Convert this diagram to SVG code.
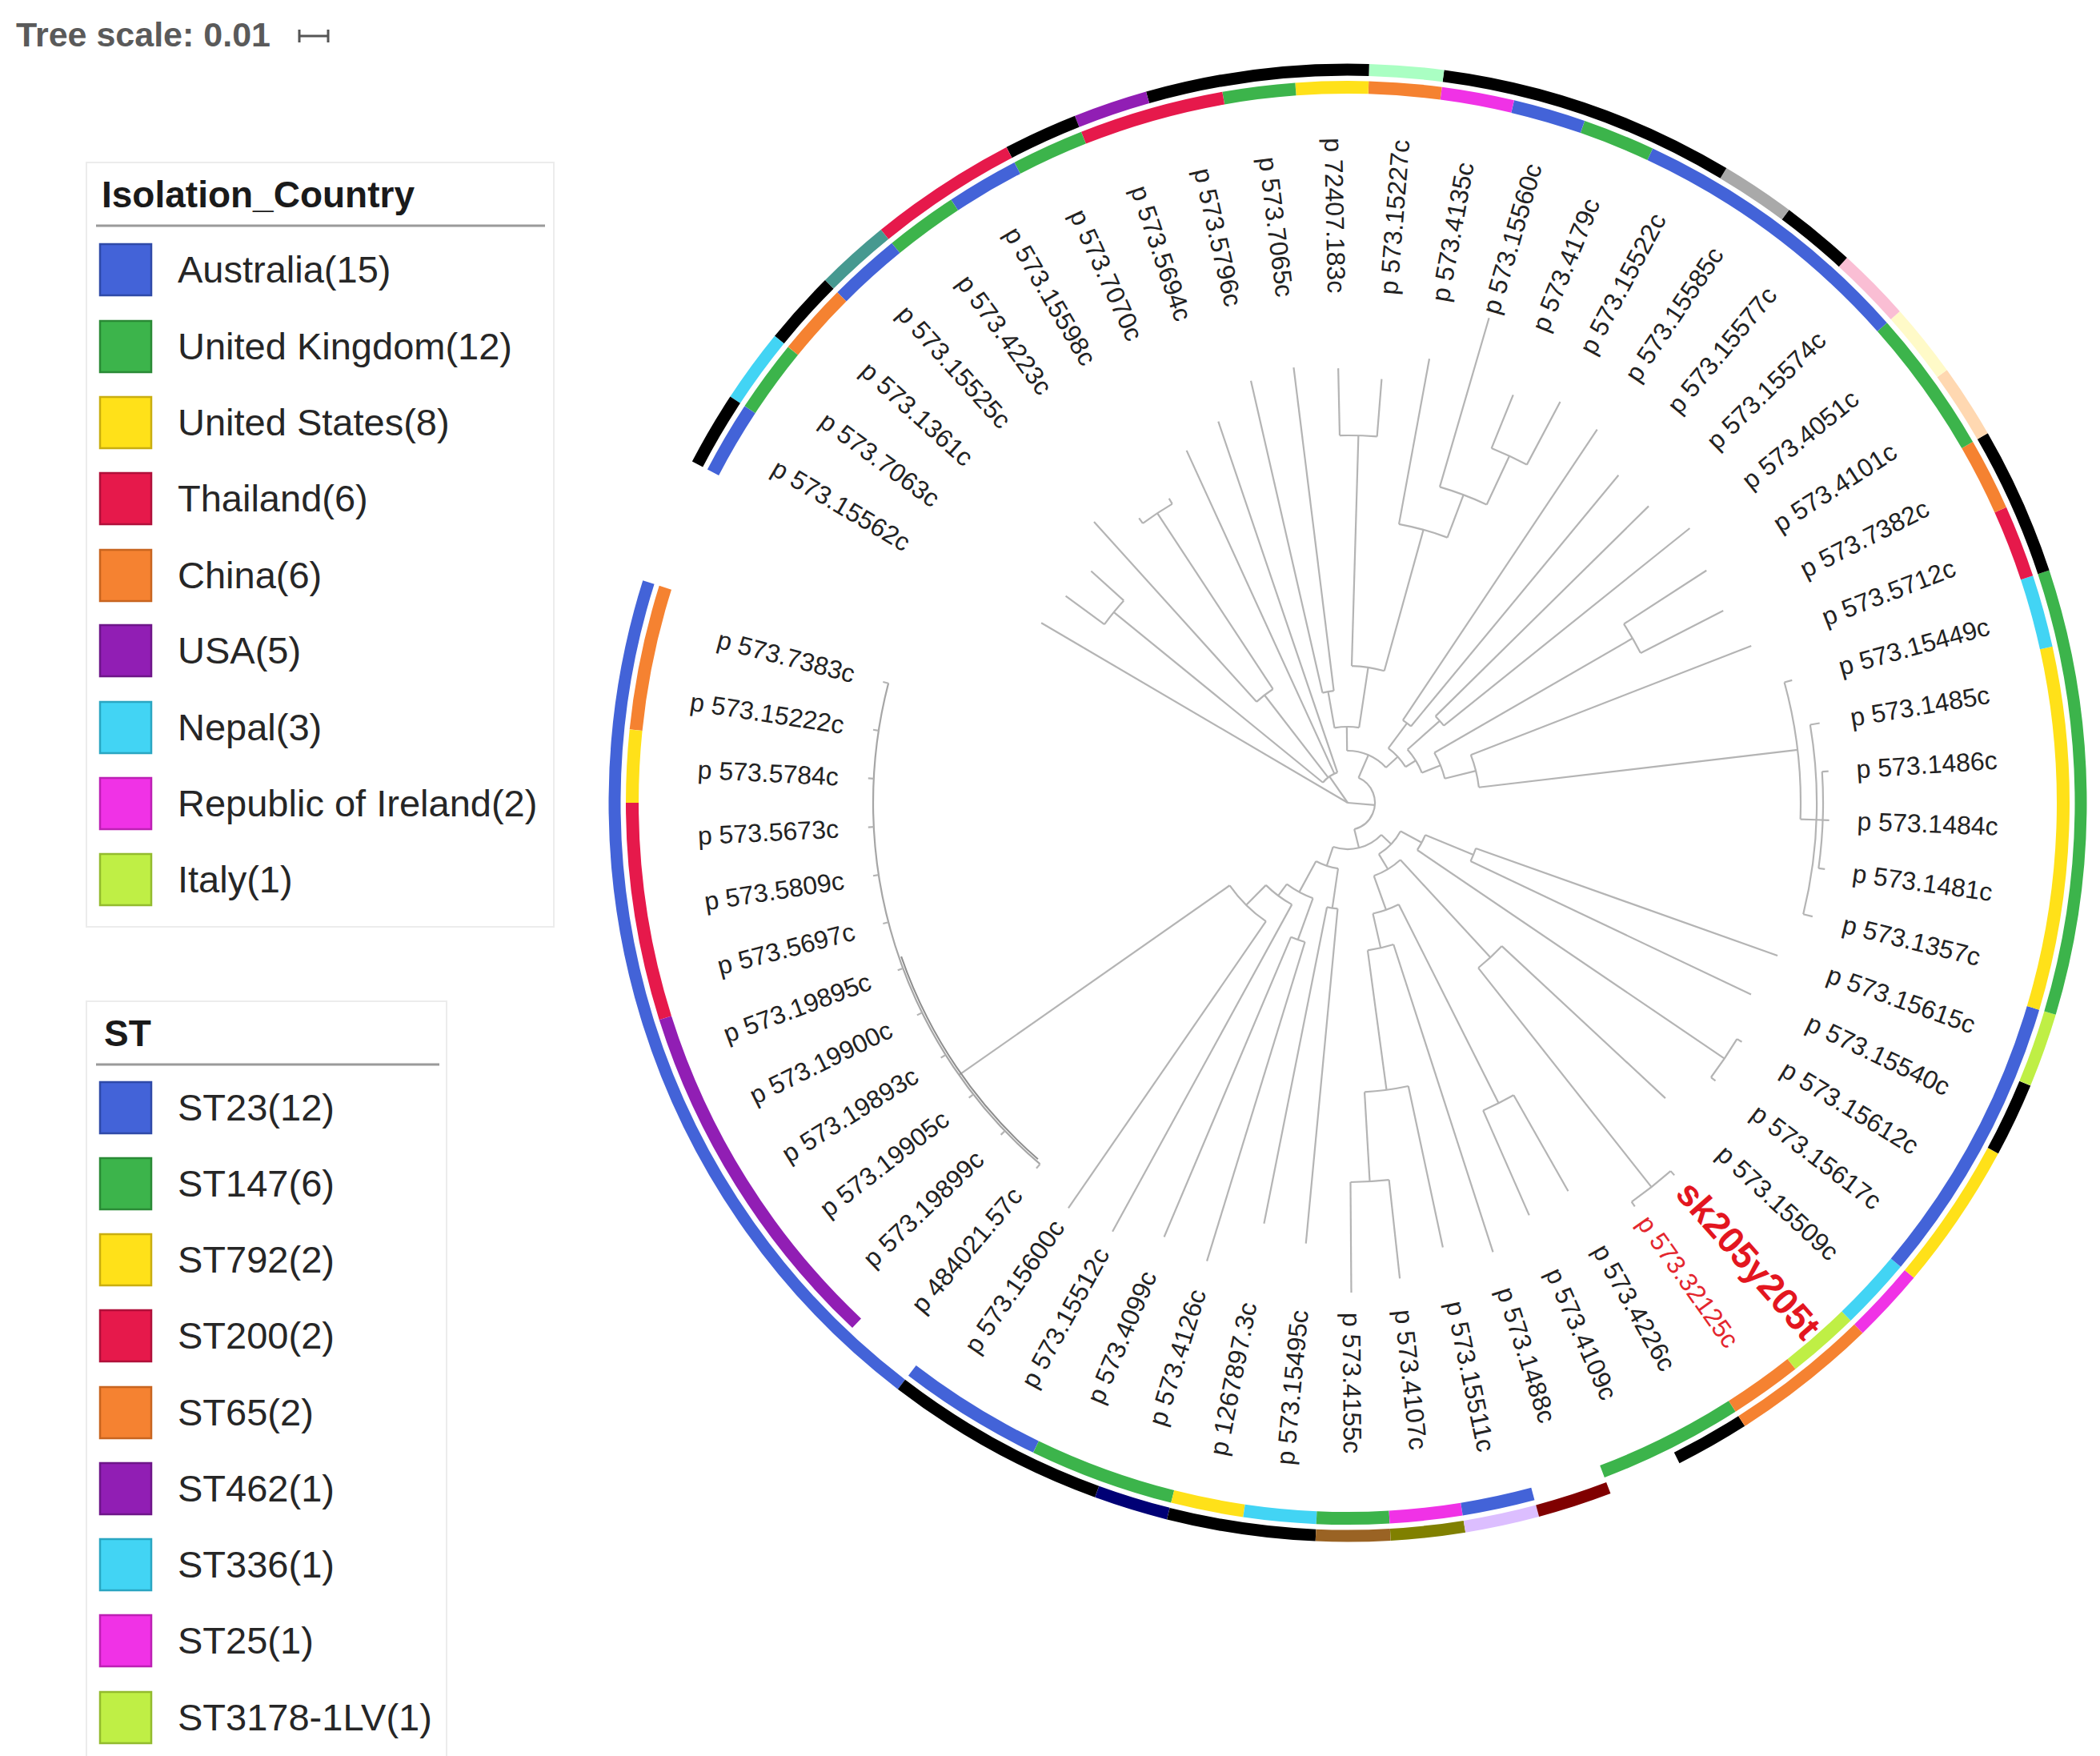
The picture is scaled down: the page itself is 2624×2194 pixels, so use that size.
<svg xmlns="http://www.w3.org/2000/svg" width="2624" height="2194" viewBox="0 0 2624 2194">
<style>
.br{fill:none;stroke:#b4b4b4;stroke-width:2.2}
.br circle{fill:none}
.lbl{font-family:"Liberation Sans",Arial,sans-serif;font-size:32px;fill:#222}
.le{text-anchor:end}
.ring circle{fill:none}
.ci circle{stroke-width:16}
.cs circle{stroke-width:15}
.leg{font-family:"Liberation Sans",Arial,sans-serif;font-size:47px;fill:#262626}
.legt{font-family:"Liberation Sans",Arial,sans-serif;font-size:46px;font-weight:bold;fill:#1a1a1a}
.box{stroke-width:2.5}
</style>
<rect width="2624" height="2194" fill="#fff"/>

<g id="tree-scale">
<text x="20" y="58" font-family="Liberation Sans, Arial, sans-serif" font-size="43" font-weight="bold" fill="#5a5a5a">Tree scale: 0.01</text>
<path d="M374 45H410M374 37V53M410 37V53" stroke="#555" stroke-width="3" fill="none"/>
</g>

<g id="legend-country">
<rect x="108" y="203" width="584" height="955" fill="#fff" stroke="#ececec" stroke-width="2"/>
<text class="legt" x="127" y="259">Isolation_Country</text>
<path d="M120 282H681" stroke="#9a9a9a" stroke-width="3"/>
<rect class="box" x="125" y="305" width="64" height="64" fill="#4363d8" stroke="#2f4aa8"/>
<text class="leg" x="222" y="353">Australia(15)</text>
<rect class="box" x="125" y="401" width="64" height="64" fill="#3cb44b" stroke="#2a8a36"/>
<text class="leg" x="222" y="449">United Kingdom(12)</text>
<rect class="box" x="125" y="496" width="64" height="64" fill="#ffe119" stroke="#c9ae10"/>
<text class="leg" x="222" y="544">United States(8)</text>
<rect class="box" x="125" y="591" width="64" height="64" fill="#e6194b" stroke="#b0103a"/>
<text class="leg" x="222" y="639">Thailand(6)</text>
<rect class="box" x="125" y="687" width="64" height="64" fill="#f58231" stroke="#c86520"/>
<text class="leg" x="222" y="735">China(6)</text>
<rect class="box" x="125" y="781" width="64" height="64" fill="#911eb4" stroke="#6e1689"/>
<text class="leg" x="222" y="829">USA(5)</text>
<rect class="box" x="125" y="877" width="64" height="64" fill="#42d4f4" stroke="#2aa6c2"/>
<text class="leg" x="222" y="925">Nepal(3)</text>
<rect class="box" x="125" y="972" width="64" height="64" fill="#f032e6" stroke="#bd20b4"/>
<text class="leg" x="222" y="1020">Republic of Ireland(2)</text>
<rect class="box" x="125" y="1067" width="64" height="64" fill="#bfef45" stroke="#93bb2e"/>
<text class="leg" x="222" y="1115">Italy(1)</text>
</g>

<g id="legend-st">
<rect x="108" y="1251" width="450" height="945" fill="#fff" stroke="#ececec" stroke-width="2"/>
<text class="legt" x="130" y="1307">ST</text>
<path d="M120 1330H549" stroke="#9a9a9a" stroke-width="3"/>
<rect class="box" x="125" y="1352" width="64" height="64" fill="#4363d8" stroke="#2f4aa8"/>
<text class="leg" x="222" y="1400">ST23(12)</text>
<rect class="box" x="125" y="1447" width="64" height="64" fill="#3cb44b" stroke="#2a8a36"/>
<text class="leg" x="222" y="1495">ST147(6)</text>
<rect class="box" x="125" y="1542" width="64" height="64" fill="#ffe119" stroke="#c9ae10"/>
<text class="leg" x="222" y="1590">ST792(2)</text>
<rect class="box" x="125" y="1637" width="64" height="64" fill="#e6194b" stroke="#b0103a"/>
<text class="leg" x="222" y="1685">ST200(2)</text>
<rect class="box" x="125" y="1733" width="64" height="64" fill="#f58231" stroke="#c86520"/>
<text class="leg" x="222" y="1781">ST65(2)</text>
<rect class="box" x="125" y="1828" width="64" height="64" fill="#911eb4" stroke="#6e1689"/>
<text class="leg" x="222" y="1876">ST462(1)</text>
<rect class="box" x="125" y="1923" width="64" height="64" fill="#42d4f4" stroke="#2aa6c2"/>
<text class="leg" x="222" y="1971">ST336(1)</text>
<rect class="box" x="125" y="2018" width="64" height="64" fill="#f032e6" stroke="#bd20b4"/>
<text class="leg" x="222" y="2066">ST25(1)</text>
<rect class="box" x="125" y="2114" width="64" height="64" fill="#bfef45" stroke="#93bb2e"/>
<text class="leg" x="222" y="2162">ST3178-1LV(1)</text>
</g>

<g id="ring-country" class="ring ci" transform="translate(1684,1003)">
<circle r="894" pathLength="360" stroke="#f58231" stroke-dasharray="11.667 400" transform="rotate(185.833)"/>
<circle r="894" pathLength="360" stroke="#ffe119" stroke-dasharray="5.833 400" transform="rotate(180)"/>
<circle r="894" pathLength="360" stroke="#e6194b" stroke-dasharray="17.5 400" transform="rotate(162.5)"/>
<circle r="894" pathLength="360" stroke="#911eb4" stroke-dasharray="29.167 400" transform="rotate(133.333)"/>
<circle r="894" pathLength="360" stroke="#4363d8" stroke-dasharray="11.667 400" transform="rotate(115.833)"/>
<circle r="894" pathLength="360" stroke="#3cb44b" stroke-dasharray="11.667 400" transform="rotate(104.167)"/>
<circle r="894" pathLength="360" stroke="#ffe119" stroke-dasharray="5.833 400" transform="rotate(98.333)"/>
<circle r="894" pathLength="360" stroke="#42d4f4" stroke-dasharray="5.833 400" transform="rotate(92.5)"/>
<circle r="894" pathLength="360" stroke="#3cb44b" stroke-dasharray="5.833 400" transform="rotate(86.667)"/>
<circle r="894" pathLength="360" stroke="#f032e6" stroke-dasharray="5.833 400" transform="rotate(80.833)"/>
<circle r="894" pathLength="360" stroke="#4363d8" stroke-dasharray="5.833 400" transform="rotate(75)"/>
<circle r="894" pathLength="360" stroke="#3cb44b" stroke-dasharray="11.667 400" transform="rotate(57.5)"/>
<circle r="894" pathLength="360" stroke="#f58231" stroke-dasharray="5.833 400" transform="rotate(51.667)"/>
<circle r="894" pathLength="360" stroke="#bfef45" stroke-dasharray="5.833 400" transform="rotate(45.833)"/>
<circle r="894" pathLength="360" stroke="#42d4f4" stroke-dasharray="5.833 400" transform="rotate(40)"/>
<circle r="894" pathLength="360" stroke="#4363d8" stroke-dasharray="23.333 400" transform="rotate(16.667)"/>
<circle r="894" pathLength="360" stroke="#ffe119" stroke-dasharray="29.167 400" transform="rotate(-12.5)"/>
<circle r="894" pathLength="360" stroke="#42d4f4" stroke-dasharray="5.833 400" transform="rotate(-18.333)"/>
<circle r="894" pathLength="360" stroke="#e6194b" stroke-dasharray="5.833 400" transform="rotate(-24.167)"/>
<circle r="894" pathLength="360" stroke="#f58231" stroke-dasharray="5.833 400" transform="rotate(-30)"/>
<circle r="894" pathLength="360" stroke="#3cb44b" stroke-dasharray="11.667 400" transform="rotate(-41.667)"/>
<circle r="894" pathLength="360" stroke="#4363d8" stroke-dasharray="23.333 400" transform="rotate(-65)"/>
<circle r="894" pathLength="360" stroke="#3cb44b" stroke-dasharray="5.833 400" transform="rotate(-70.833)"/>
<circle r="894" pathLength="360" stroke="#4363d8" stroke-dasharray="5.833 400" transform="rotate(-76.667)"/>
<circle r="894" pathLength="360" stroke="#f032e6" stroke-dasharray="5.833 400" transform="rotate(-82.5)"/>
<circle r="894" pathLength="360" stroke="#f58231" stroke-dasharray="5.833 400" transform="rotate(-88.333)"/>
<circle r="894" pathLength="360" stroke="#ffe119" stroke-dasharray="5.833 400" transform="rotate(-94.167)"/>
<circle r="894" pathLength="360" stroke="#3cb44b" stroke-dasharray="5.833 400" transform="rotate(-100)"/>
<circle r="894" pathLength="360" stroke="#e6194b" stroke-dasharray="11.667 400" transform="rotate(-111.667)"/>
<circle r="894" pathLength="360" stroke="#3cb44b" stroke-dasharray="5.833 400" transform="rotate(-117.5)"/>
<circle r="894" pathLength="360" stroke="#4363d8" stroke-dasharray="5.833 400" transform="rotate(-123.333)"/>
<circle r="894" pathLength="360" stroke="#3cb44b" stroke-dasharray="5.833 400" transform="rotate(-129.167)"/>
<circle r="894" pathLength="360" stroke="#4363d8" stroke-dasharray="5.833 400" transform="rotate(-135)"/>
<circle r="894" pathLength="360" stroke="#f58231" stroke-dasharray="5.833 400" transform="rotate(-140.833)"/>
<circle r="894" pathLength="360" stroke="#3cb44b" stroke-dasharray="5.833 400" transform="rotate(-146.667)"/>
<circle r="894" pathLength="360" stroke="#4363d8" stroke-dasharray="5.833 400" transform="rotate(-152.5)"/>
</g>

<g id="ring-st" class="ring cs" transform="translate(1684,1003)">
<circle r="916" pathLength="360" stroke="#4363d8" stroke-dasharray="70 400" transform="rotate(127.5)"/>
<circle r="916" pathLength="360" stroke="#000" stroke-dasharray="17.5 400" transform="rotate(110)"/>
<circle r="916" pathLength="360" stroke="#000075" stroke-dasharray="5.833 400" transform="rotate(104.167)"/>
<circle r="916" pathLength="360" stroke="#000" stroke-dasharray="11.667 400" transform="rotate(92.5)"/>
<circle r="916" pathLength="360" stroke="#9a6324" stroke-dasharray="5.833 400" transform="rotate(86.667)"/>
<circle r="916" pathLength="360" stroke="#808000" stroke-dasharray="5.833 400" transform="rotate(80.833)"/>
<circle r="916" pathLength="360" stroke="#dcbeff" stroke-dasharray="5.833 400" transform="rotate(75)"/>
<circle r="916" pathLength="360" stroke="#800000" stroke-dasharray="5.833 400" transform="rotate(69.167)"/>
<circle r="916" pathLength="360" stroke="#000" stroke-dasharray="5.833 400" transform="rotate(57.5)"/>
<circle r="916" pathLength="360" stroke="#f58231" stroke-dasharray="11.667 400" transform="rotate(45.833)"/>
<circle r="916" pathLength="360" stroke="#f032e6" stroke-dasharray="5.833 400" transform="rotate(40)"/>
<circle r="916" pathLength="360" stroke="#ffe119" stroke-dasharray="11.667 400" transform="rotate(28.333)"/>
<circle r="916" pathLength="360" stroke="#000" stroke-dasharray="5.833 400" transform="rotate(22.5)"/>
<circle r="916" pathLength="360" stroke="#bfef45" stroke-dasharray="5.833 400" transform="rotate(16.667)"/>
<circle r="916" pathLength="360" stroke="#3cb44b" stroke-dasharray="35 400" transform="rotate(-18.333)"/>
<circle r="916" pathLength="360" stroke="#000" stroke-dasharray="11.667 400" transform="rotate(-30)"/>
<circle r="916" pathLength="360" stroke="#ffd8b1" stroke-dasharray="5.833 400" transform="rotate(-35.833)"/>
<circle r="916" pathLength="360" stroke="#fffac8" stroke-dasharray="5.833 400" transform="rotate(-41.667)"/>
<circle r="916" pathLength="360" stroke="#fabed4" stroke-dasharray="5.833 400" transform="rotate(-47.5)"/>
<circle r="916" pathLength="360" stroke="#000" stroke-dasharray="5.833 400" transform="rotate(-53.333)"/>
<circle r="916" pathLength="360" stroke="#a9a9a9" stroke-dasharray="5.833 400" transform="rotate(-59.167)"/>
<circle r="916" pathLength="360" stroke="#000" stroke-dasharray="23.333 400" transform="rotate(-82.5)"/>
<circle r="916" pathLength="360" stroke="#aaffc3" stroke-dasharray="5.833 400" transform="rotate(-88.333)"/>
<circle r="916" pathLength="360" stroke="#000" stroke-dasharray="17.5 400" transform="rotate(-105.833)"/>
<circle r="916" pathLength="360" stroke="#911eb4" stroke-dasharray="5.833 400" transform="rotate(-111.667)"/>
<circle r="916" pathLength="360" stroke="#000" stroke-dasharray="5.833 400" transform="rotate(-117.5)"/>
<circle r="916" pathLength="360" stroke="#e6194b" stroke-dasharray="11.667 400" transform="rotate(-129.167)"/>
<circle r="916" pathLength="360" stroke="#469990" stroke-dasharray="5.833 400" transform="rotate(-135)"/>
<circle r="916" pathLength="360" stroke="#000" stroke-dasharray="5.833 400" transform="rotate(-140.833)"/>
<circle r="916" pathLength="360" stroke="#42d4f4" stroke-dasharray="5.833 400" transform="rotate(-146.667)"/>
<circle r="916" pathLength="360" stroke="#000" stroke-dasharray="5.833 400" transform="rotate(-152.5)"/>
</g>

<g id="branches" class="br" transform="translate(1684,1003)">
<path d="M0 0H444" transform="rotate(210.42)"/>
<path d="M0 0H40" transform="rotate(235.2)"/>
<path d="M0 0H34" transform="rotate(4.7)"/>
<circle r="40" pathLength="360" stroke-dasharray="32.08 400" transform="rotate(219.17)"/>
<path d="M40 0H377" transform="rotate(219.17)"/>
<circle r="377" pathLength="360" stroke-dasharray="5.83 400" transform="rotate(216.25)"/>
<path d="M377 0H437" transform="rotate(216.25)"/>
<path d="M377 0H432" transform="rotate(222.08)"/>
<path d="M40 0H170" transform="rotate(232.3)"/>
<circle r="170" pathLength="360" stroke-dasharray="8.75 400" transform="rotate(227.92)"/>
<path d="M170 0H473" transform="rotate(227.92)"/>
<path d="M170 0H433" transform="rotate(236.67)"/>
<circle r="433" pathLength="360" stroke-dasharray="5.83 400" transform="rotate(233.75)"/>
<path d="M433 0H441" transform="rotate(233.75)"/>
<path d="M433 0H441" transform="rotate(239.58)"/>
<path d="M40 0H484" transform="rotate(245.42)"/>
<path d="M40 0H503" transform="rotate(251.25)"/>
<circle r="34" pathLength="360" stroke-dasharray="142.6 400" transform="rotate(293.4)"/>
<path d="M34 0H65" transform="rotate(293.4)"/>
<circle r="65" pathLength="360" stroke-dasharray="48.1 400" transform="rotate(269.3)"/>
<path d="M65 0H95" transform="rotate(269.3)"/>
<circle r="95" pathLength="360" stroke-dasharray="18.6 400" transform="rotate(260)"/>
<path d="M95 0H141" transform="rotate(260)"/>
<circle r="141" pathLength="360" stroke-dasharray="5.83 400" transform="rotate(257.08)"/>
<path d="M141 0H541" transform="rotate(257.08)"/>
<path d="M141 0H548" transform="rotate(262.92)"/>
<path d="M95 0H171" transform="rotate(278.6)"/>
<circle r="171" pathLength="360" stroke-dasharray="13.83 400" transform="rotate(271.67)"/>
<path d="M171 0H459" transform="rotate(271.67)"/>
<circle r="459" pathLength="360" stroke-dasharray="5.83 400" transform="rotate(268.75)"/>
<path d="M459 0H543" transform="rotate(268.75)"/>
<path d="M459 0H531" transform="rotate(274.58)"/>
<path d="M171 0H354" transform="rotate(285.5)"/>
<circle r="354" pathLength="360" stroke-dasharray="10.18 400" transform="rotate(280.42)"/>
<path d="M354 0H564" transform="rotate(280.42)"/>
<path d="M354 0H411" transform="rotate(290.6)"/>
<circle r="411" pathLength="360" stroke-dasharray="8.75 400" transform="rotate(286.25)"/>
<path d="M411 0H631" transform="rotate(286.25)"/>
<path d="M411 0H478" transform="rotate(295)"/>
<circle r="478" pathLength="360" stroke-dasharray="5.83 400" transform="rotate(292.08)"/>
<path d="M478 0H550" transform="rotate(292.08)"/>
<path d="M478 0H567" transform="rotate(297.92)"/>
<path d="M65 0H85" transform="rotate(317.4)"/>
<circle r="85" pathLength="360" stroke-dasharray="21.53 400" transform="rotate(306.67)"/>
<path d="M85 0H124" transform="rotate(306.67)"/>
<circle r="124" pathLength="360" stroke-dasharray="5.83 400" transform="rotate(303.75)"/>
<path d="M124 0H561" transform="rotate(303.75)"/>
<path d="M124 0H531" transform="rotate(309.58)"/>
<path d="M85 0H100" transform="rotate(328.2)"/>
<circle r="100" pathLength="360" stroke-dasharray="19.67 400" transform="rotate(318.33)"/>
<path d="M100 0H154" transform="rotate(318.33)"/>
<circle r="154" pathLength="360" stroke-dasharray="5.83 400" transform="rotate(315.42)"/>
<path d="M154 0H528" transform="rotate(315.42)"/>
<path d="M154 0H548" transform="rotate(321.25)"/>
<path d="M100 0H125" transform="rotate(338)"/>
<circle r="125" pathLength="360" stroke-dasharray="16 400" transform="rotate(330)"/>
<path d="M125 0H411" transform="rotate(330)"/>
<circle r="411" pathLength="360" stroke-dasharray="5.83 400" transform="rotate(327.08)"/>
<path d="M411 0H534" transform="rotate(327.08)"/>
<path d="M411 0H527" transform="rotate(332.92)"/>
<path d="M125 0H165" transform="rotate(346)"/>
<circle r="165" pathLength="360" stroke-dasharray="14.55 400" transform="rotate(338.75)"/>
<path d="M165 0H541" transform="rotate(338.75)"/>
<path d="M165 0H566" transform="rotate(353.3)"/>
<circle r="566" pathLength="360" stroke-dasharray="17.5 400" transform="rotate(344.58)"/>
<path d="M566 0H576" transform="rotate(344.58)"/>
<path d="M566 0H586" transform="rotate(2.08)"/>
<circle r="586" pathLength="360" stroke-dasharray="23.33 400" transform="rotate(350.42)"/>
<path d="M586 0H598" transform="rotate(350.42)"/>
<path d="M586 0H598" transform="rotate(13.75)"/>
<circle r="594" pathLength="360" stroke-dasharray="11.67 400" transform="rotate(356.25)"/>
<path d="M594 0H602" transform="rotate(356.25)"/>
<path d="M586 0H602" transform="rotate(2.08)"/>
<path d="M594 0H602" transform="rotate(7.92)"/>
<path d="M34 0H58" transform="rotate(76)"/>
<circle r="58" pathLength="360" stroke-dasharray="64.85 400" transform="rotate(43.55)"/>
<path d="M58 0H75" transform="rotate(43.55)"/>
<circle r="75" pathLength="360" stroke-dasharray="30.5 400" transform="rotate(28.3)"/>
<path d="M75 0H105" transform="rotate(28.3)"/>
<circle r="105" pathLength="360" stroke-dasharray="11.67 400" transform="rotate(22.5)"/>
<path d="M105 0H170" transform="rotate(22.5)"/>
<circle r="170" pathLength="360" stroke-dasharray="5.83 400" transform="rotate(19.58)"/>
<path d="M170 0H570" transform="rotate(19.58)"/>
<path d="M170 0H558" transform="rotate(25.42)"/>
<path d="M105 0H569" transform="rotate(34.17)"/>
<circle r="569" pathLength="360" stroke-dasharray="5.83 400" transform="rotate(31.25)"/>
<path d="M569 0H576" transform="rotate(31.25)"/>
<path d="M569 0H576" transform="rotate(37.08)"/>
<path d="M75 0H97" transform="rotate(58.8)"/>
<circle r="97" pathLength="360" stroke-dasharray="23 400" transform="rotate(47.3)"/>
<path d="M97 0H263" transform="rotate(47.3)"/>
<circle r="263" pathLength="360" stroke-dasharray="8.75 400" transform="rotate(42.92)"/>
<path d="M263 0H542" transform="rotate(42.92)"/>
<path d="M263 0H612" transform="rotate(51.67)"/>
<circle r="612" pathLength="360" stroke-dasharray="5.83 400" transform="rotate(48.75)"/>
<path d="M612 0H619" transform="rotate(48.75)"/>
<path d="M612 0H619" transform="rotate(54.58)"/>
<path d="M97 0H142" transform="rotate(70.3)"/>
<circle r="142" pathLength="360" stroke-dasharray="13.87 400" transform="rotate(63.33)"/>
<path d="M142 0H420" transform="rotate(63.33)"/>
<circle r="420" pathLength="360" stroke-dasharray="5.83 400" transform="rotate(60.42)"/>
<path d="M420 0H558" transform="rotate(60.42)"/>
<path d="M420 0H563" transform="rotate(66.25)"/>
<path d="M142 0H186" transform="rotate(77.2)"/>
<circle r="186" pathLength="360" stroke-dasharray="10.22 400" transform="rotate(72.08)"/>
<path d="M186 0H590" transform="rotate(72.08)"/>
<path d="M186 0H362" transform="rotate(82.3)"/>
<circle r="362" pathLength="360" stroke-dasharray="8.75 400" transform="rotate(77.92)"/>
<path d="M362 0H568" transform="rotate(77.92)"/>
<path d="M362 0H474" transform="rotate(86.67)"/>
<circle r="474" pathLength="360" stroke-dasharray="5.83 400" transform="rotate(83.75)"/>
<path d="M474 0H598" transform="rotate(83.75)"/>
<path d="M474 0H612" transform="rotate(89.58)"/>
<path d="M58 0H83" transform="rotate(108.4)"/>
<circle r="83" pathLength="360" stroke-dasharray="20.17 400" transform="rotate(98.33)"/>
<path d="M83 0H133" transform="rotate(98.33)"/>
<circle r="133" pathLength="360" stroke-dasharray="5.83 400" transform="rotate(95.42)"/>
<path d="M133 0H553" transform="rotate(95.42)"/>
<path d="M133 0H536" transform="rotate(101.25)"/>
<path d="M83 0H127" transform="rotate(118.5)"/>
<circle r="127" pathLength="360" stroke-dasharray="16.8 400" transform="rotate(110)"/>
<path d="M127 0H182" transform="rotate(110)"/>
<circle r="182" pathLength="360" stroke-dasharray="5.83 400" transform="rotate(107.08)"/>
<path d="M182 0H599" transform="rotate(107.08)"/>
<path d="M182 0H589" transform="rotate(112.92)"/>
<path d="M127 0H145" transform="rotate(126.8)"/>
<circle r="145" pathLength="360" stroke-dasharray="16.05 400" transform="rotate(118.75)"/>
<path d="M145 0H611" transform="rotate(118.75)"/>
<path d="M145 0H180" transform="rotate(134.8)"/>
<circle r="180" pathLength="360" stroke-dasharray="20.42 400" transform="rotate(124.58)"/>
<path d="M180 0H615" transform="rotate(124.58)"/>
<path d="M180 0H593" transform="rotate(145)"/>
<circle r="593" pathLength="360" stroke-dasharray="64.17 400" transform="rotate(130.42)" stroke="#a6a6a6"/>
<circle r="590" pathLength="360" stroke-dasharray="30 400" transform="rotate(131)" stroke="#8e8e8e" stroke-width="2"/>
<path d="M593 0H600" transform="rotate(194.58)"/>
<path d="M593 0H600" transform="rotate(188.75)"/>
<path d="M593 0H600" transform="rotate(182.92)"/>
<path d="M593 0H600" transform="rotate(177.08)"/>
<path d="M593 0H600" transform="rotate(171.25)"/>
<path d="M593 0H600" transform="rotate(165.42)"/>
<path d="M593 0H600" transform="rotate(159.58)"/>
<path d="M593 0H600" transform="rotate(153.75)"/>
<path d="M593 0H600" transform="rotate(147.92)"/>
<path d="M593 0H600" transform="rotate(142.08)"/>
<path d="M593 0H600" transform="rotate(136.25)"/>
<path d="M593 0H600" transform="rotate(130.42)"/>
</g>

<g id="labels" class="lbl" transform="translate(1684,1003)" dominant-baseline="central">
<g id="leaf-01"><text class="le" transform="rotate(14.58) translate(-637 0)">p 573.7383c</text></g>
<g id="leaf-02"><text class="le" transform="rotate(8.75) translate(-637 0)">p 573.15222c</text></g>
<g id="leaf-03"><text class="le" transform="rotate(2.92) translate(-637 0)">p 573.5784c</text></g>
<g id="leaf-04"><text class="le" transform="rotate(-2.92) translate(-637 0)">p 573.5673c</text></g>
<g id="leaf-05"><text class="le" transform="rotate(-8.75) translate(-637 0)">p 573.5809c</text></g>
<g id="leaf-06"><text class="le" transform="rotate(-14.58) translate(-637 0)">p 573.5697c</text></g>
<g id="leaf-07"><text class="le" transform="rotate(-20.42) translate(-637 0)">p 573.19895c</text></g>
<g id="leaf-08"><text class="le" transform="rotate(-26.25) translate(-637 0)">p 573.19900c</text></g>
<g id="leaf-09"><text class="le" transform="rotate(-32.08) translate(-637 0)">p 573.19893c</text></g>
<g id="leaf-10"><text class="le" transform="rotate(-37.92) translate(-637 0)">p 573.19905c</text></g>
<g id="leaf-11"><text class="le" transform="rotate(-43.75) translate(-637 0)">p 573.19899c</text></g>
<g id="leaf-12"><text class="le" transform="rotate(-49.58) translate(-637 0)">p 484021.57c</text></g>
<g id="leaf-13"><text class="le" transform="rotate(-55.42) translate(-637 0)">p 573.15600c</text></g>
<g id="leaf-14"><text class="le" transform="rotate(-61.25) translate(-637 0)">p 573.15512c</text></g>
<g id="leaf-15"><text class="le" transform="rotate(-67.08) translate(-637 0)">p 573.4099c</text></g>
<g id="leaf-16"><text class="le" transform="rotate(-72.92) translate(-637 0)">p 573.4126c</text></g>
<g id="leaf-17"><text class="le" transform="rotate(-78.75) translate(-637 0)">p 1267897.3c</text></g>
<g id="leaf-18"><text class="le" transform="rotate(-84.58) translate(-637 0)">p 573.15495c</text></g>
<g id="leaf-19"><text transform="rotate(89.58) translate(637 0)">p 573.4155c</text></g>
<g id="leaf-20"><text transform="rotate(83.75) translate(637 0)">p 573.4107c</text></g>
<g id="leaf-21"><text transform="rotate(77.92) translate(637 0)">p 573.15511c</text></g>
<g id="leaf-22"><text transform="rotate(72.08) translate(637 0)">p 573.1488c</text></g>
<g id="leaf-23"><text transform="rotate(66.25) translate(637 0)">p 573.4109c</text></g>
<g id="leaf-24"><text transform="rotate(60.42) translate(637 0)">p 573.4226c</text></g>
<g id="leaf-25"><text transform="rotate(54.58) translate(637 0)" fill="#e3262e">p 573.32125c</text></g>
<g id="leaf-26"><text transform="rotate(48.75) translate(637 0)" fill="#e3161f" font-size="46" font-weight="bold">sk205y205t</text></g>
<g id="leaf-27"><text transform="rotate(42.92) translate(637 0)">p 573.15509c</text></g>
<g id="leaf-28"><text transform="rotate(37.08) translate(637 0)">p 573.15617c</text></g>
<g id="leaf-29"><text transform="rotate(31.25) translate(637 0)">p 573.15612c</text></g>
<g id="leaf-30"><text transform="rotate(25.42) translate(637 0)">p 573.15540c</text></g>
<g id="leaf-31"><text transform="rotate(19.58) translate(637 0)">p 573.15615c</text></g>
<g id="leaf-32"><text transform="rotate(13.75) translate(637 0)">p 573.1357c</text></g>
<g id="leaf-33"><text transform="rotate(7.92) translate(637 0)">p 573.1481c</text></g>
<g id="leaf-34"><text transform="rotate(2.08) translate(637 0)">p 573.1484c</text></g>
<g id="leaf-35"><text transform="rotate(-3.75) translate(637 0)">p 573.1486c</text></g>
<g id="leaf-36"><text transform="rotate(-9.58) translate(637 0)">p 573.1485c</text></g>
<g id="leaf-37"><text transform="rotate(-15.42) translate(637 0)">p 573.15449c</text></g>
<g id="leaf-38"><text transform="rotate(-21.25) translate(637 0)">p 573.5712c</text></g>
<g id="leaf-39"><text transform="rotate(-27.08) translate(637 0)">p 573.7382c</text></g>
<g id="leaf-40"><text transform="rotate(-32.92) translate(637 0)">p 573.4101c</text></g>
<g id="leaf-41"><text transform="rotate(-38.75) translate(637 0)">p 573.4051c</text></g>
<g id="leaf-42"><text transform="rotate(-44.58) translate(637 0)">p 573.15574c</text></g>
<g id="leaf-43"><text transform="rotate(-50.42) translate(637 0)">p 573.15577c</text></g>
<g id="leaf-44"><text transform="rotate(-56.25) translate(637 0)">p 573.15585c</text></g>
<g id="leaf-45"><text transform="rotate(-62.08) translate(637 0)">p 573.15522c</text></g>
<g id="leaf-46"><text transform="rotate(-67.92) translate(637 0)">p 573.4179c</text></g>
<g id="leaf-47"><text transform="rotate(-73.75) translate(637 0)">p 573.15560c</text></g>
<g id="leaf-48"><text transform="rotate(-79.58) translate(637 0)">p 573.4135c</text></g>
<g id="leaf-49"><text transform="rotate(-85.42) translate(637 0)">p 573.15227c</text></g>
<g id="leaf-50"><text class="le" transform="rotate(88.75) translate(-637 0)">p 72407.183c</text></g>
<g id="leaf-51"><text class="le" transform="rotate(82.92) translate(-637 0)">p 573.7065c</text></g>
<g id="leaf-52"><text class="le" transform="rotate(77.08) translate(-637 0)">p 573.5796c</text></g>
<g id="leaf-53"><text class="le" transform="rotate(71.25) translate(-637 0)">p 573.5694c</text></g>
<g id="leaf-54"><text class="le" transform="rotate(65.42) translate(-637 0)">p 573.7070c</text></g>
<g id="leaf-55"><text class="le" transform="rotate(59.58) translate(-637 0)">p 573.15598c</text></g>
<g id="leaf-56"><text class="le" transform="rotate(53.75) translate(-637 0)">p 573.4223c</text></g>
<g id="leaf-57"><text class="le" transform="rotate(47.92) translate(-637 0)">p 573.15525c</text></g>
<g id="leaf-58"><text class="le" transform="rotate(42.08) translate(-637 0)">p 573.1361c</text></g>
<g id="leaf-59"><text class="le" transform="rotate(36.25) translate(-637 0)">p 573.7063c</text></g>
<g id="leaf-60"><text class="le" transform="rotate(30.42) translate(-637 0)">p 573.15562c</text></g>
</g>
</svg>
